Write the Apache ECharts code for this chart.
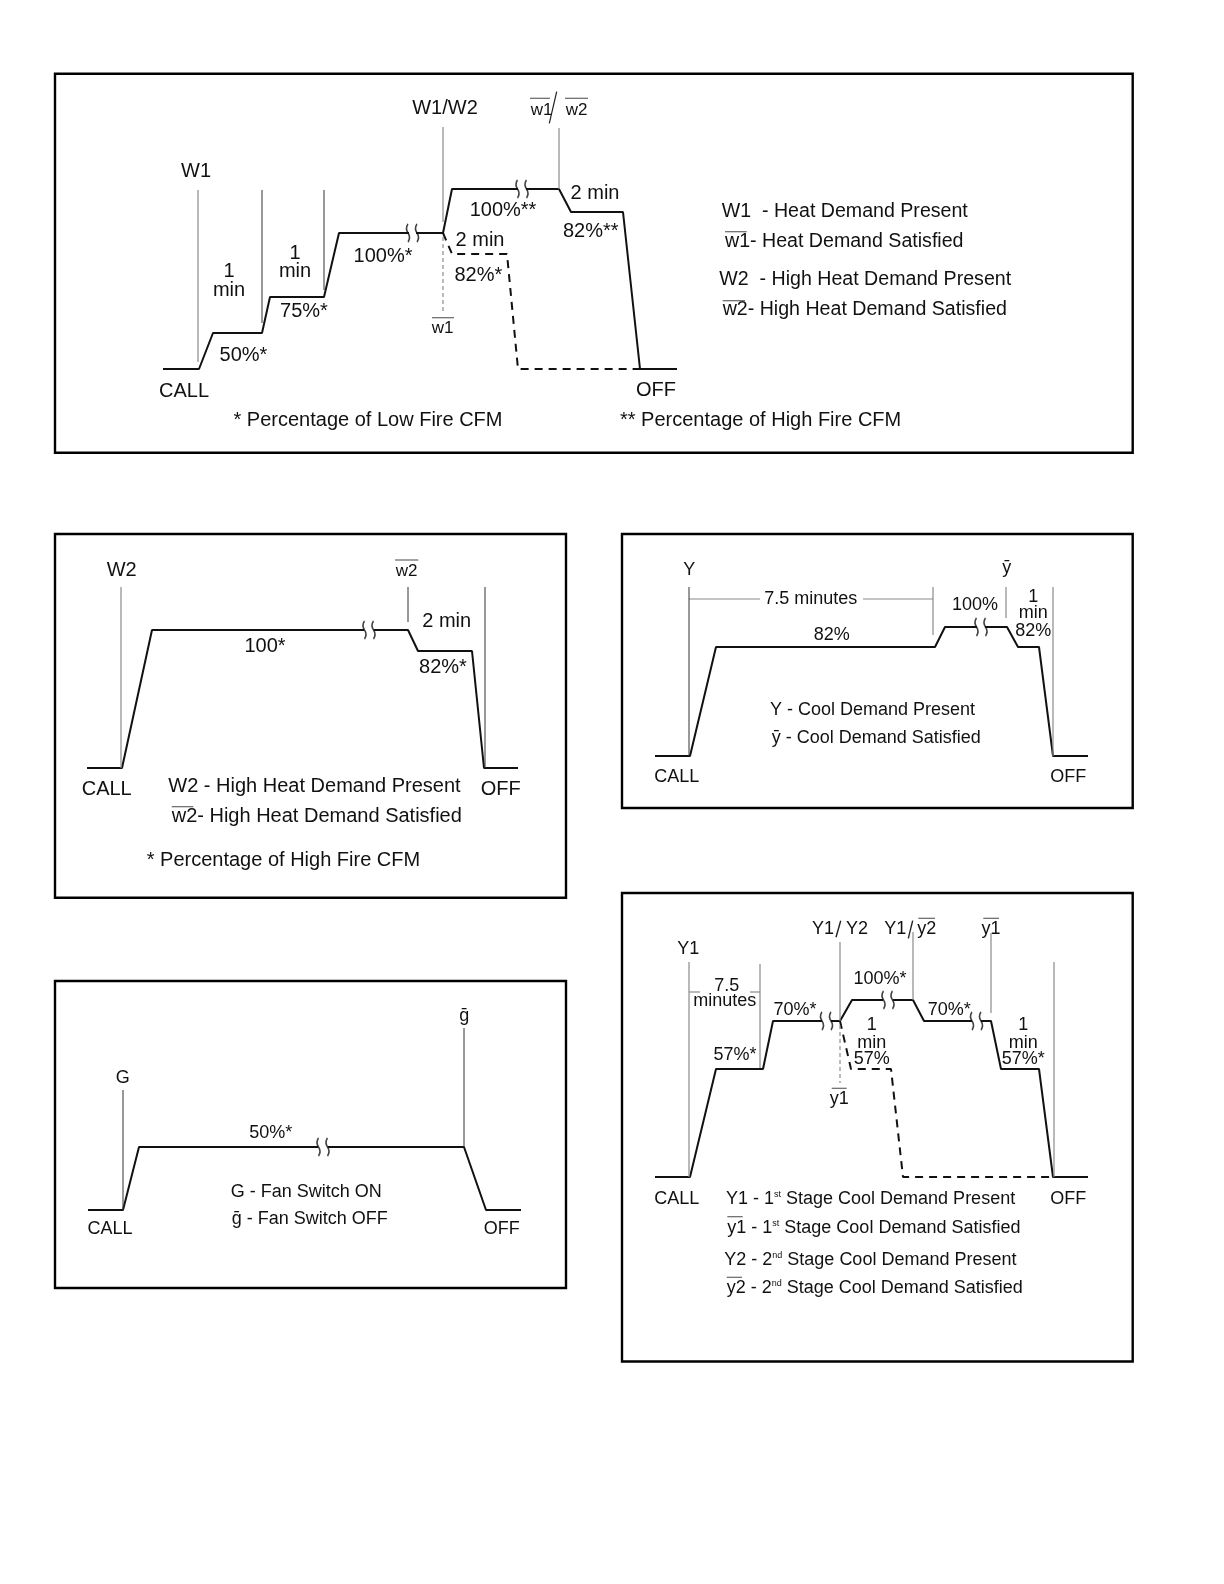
<!DOCTYPE html>
<html>
<head>
<meta charset="utf-8">
<script src="https://cdn.jsdelivr.net/npm/echarts@6/dist/echarts.min.js"></script>
<style>
  html, body { margin: 0; padding: 0; background: #fff; }
  #chart { width: 1224px; height: 1584px; }
</style>
</head>
<body>
<div id="chart"></div>
<script>
// blower profiles (page units, y grows downward)
const heatStagedSolid = [[163,369],[199,369],[213,333],[262,333],[270,297],[324,297],[339,233],[409,233],['-','-'],[416,233],[443,233],[452,189],[518,189],['-','-'],[526,189],[559,189],[571,212],[623,212],[640,369],[677,369]]
const heatStagedDashed = [[443,233],[452,254],[507,254],[518,369],[640,369]]
const highHeatSolid = [[87,768],[122,768],[152,630],[364,630],['-','-'],[374,630],[408,630],[418,651],[472,651],[484,768],[518,768]]
const coolSolid = [[655,756],[690,756],[716,647],[935,647],[945,627],[977,627],['-','-'],[985,627],[1007,627],[1018,647],[1039,647],[1053,756],[1088,756]]
const fanSolid = [[88,1210],[123,1210],[139,1147],[318,1147],['-','-'],[328,1147],[464,1147],[486,1210],[521,1210]]
const twoStageSolid = [[655,1177],[690,1177],[716,1069],[763,1069],[773,1021],[822,1021],['-','-'],[831,1021],[840,1021],[852,1000],[883,1000],['-','-'],[893,1000],[913,1000],[924,1021],[972,1021],['-','-'],[981,1021],[991,1021],[1001,1069],[1039,1069],[1053,1177],[1088,1177]]
const twoStageDashed = [[840,1021],[851,1069],[891,1069],[903,1177],[1053,1177]]

// thermostat event markers (vertical ticks)
const grayMarkers = [
  [[198,190],[198,362]], [[443,127],[443,222]], [[559,128],[559,189]],
  [[121,587],[121,768]],
  [[933,587],[933,635]], [[1006,587],[1006,618]], [[1053,587],[1053,756]],
  [[689,962],[689,1177]], [[760,964],[760,1068]], [[840,942],[840,1021]],
  [[913,932],[913,1000]], [[991,933],[991,1013]], [[1054,962],[1054,1177]],
  // dimension lines
  [[689,599],[760,599]], [[863,599],[933,599]],
  [[689,992],[700,992]], [[750,992],[760,992]]
]
const darkMarkers = [
  [[262,190],[262,323]], [[324,190],[324,290]],
  [[408,587],[408,622]], [[485,587],[485,768]],
  [[689,587],[689,756]],
  [[123,1090],[123,1210]], [[464,1028],[464,1147]]
]
const dashedMarkers = [
  [[443,237],[443,312]], [[840,1025],[840,1083]]
]
const breakPoints = [[412.5,233],[522,189],[369,630],[981,627],[323,1147],[826.5,1021],[888,1000],[976.5,1021]]

const FONT = '"Liberation Sans", Arial, sans-serif'
const INK = '#111'

function line(data, opts) {
  return Object.assign({
    type: 'line', data: data, symbol: 'none', silent: true,
    lineStyle: { color: INK, width: 2 }
  }, opts || {})
}

const series = []
;[heatStagedSolid, highHeatSolid, coolSolid, fanSolid, twoStageSolid].forEach(d => series.push(line(d)))
;[heatStagedDashed, twoStageDashed].forEach(d => series.push(line(d, { lineStyle: { color: INK, width: 2, type: [8, 6] } })))
grayMarkers.forEach(d => series.push(line(d, { lineStyle: { color: '#8a8a8a', width: 1.2 } })))
darkMarkers.forEach(d => series.push(line(d, { lineStyle: { color: '#333', width: 1 } })))
dashedMarkers.forEach(d => series.push(line(d, { lineStyle: { color: '#777', width: 1, type: [4, 3] } })))
series.push({
  type: 'scatter', data: breakPoints, silent: true,
  symbol: 'path://M2,0 Q0,4 2,8 Q4,12 2,16 M8,0 Q6,4 8,8 Q10,12 8,16',
  symbolSize: [12, 18],
  itemStyle: { color: 'rgba(0,0,0,0)', borderColor: INK, borderWidth: 1.8 }
})

// text helpers
function txt(x, y, text, size, align) {
  return {
    type: 'text', x: x, y: y, z: 10,
    style: {
      text: text, fill: INK, fontSize: size, fontFamily: FONT,
      align: align || 'center', verticalAlign: 'middle',
      textAlign: align || 'center', textVerticalAlign: 'middle'
    }
  }
}
function sup(x, y, pre, s, post, size) {
  return {
    type: 'text', x: x, y: y, z: 10,
    style: {
      text: '{a|' + pre + '}{s|' + s + '}{a|' + post + '}',
      align: 'left', verticalAlign: 'middle', textAlign: 'left', textVerticalAlign: 'middle',
      rich: {
        a: { fontSize: size, fontFamily: FONT, fill: INK, color: INK },
        s: { fontSize: 9, fontFamily: FONT, fill: INK, color: INK, verticalAlign: 'top' }
      }
    }
  }
}
function seg(x1, y1, x2, y2, color, w) {
  return { type: 'line', z: 10, shape: { x1: x1, y1: y1, x2: x2, y2: y2 }, style: { stroke: color || '#666', lineWidth: w || 1.2 } }
}
function box(x, y, w, h) {
  return { type: 'rect', z: 5, shape: { x: x, y: y, width: w, height: h }, style: { fill: 'none', stroke: '#000', lineWidth: 2.4 } }
}

const L = 20, S = 18
const graphic = [
  box(55, 73.7, 1077.7, 379.1),
  box(55, 534, 511, 363.7),
  box(622, 534, 510.7, 274),
  box(55, 981, 511, 307),
  box(622, 893, 510.7, 468.5),

  // panel 1 - staged heat
  txt(196, 171.7, 'W1', L),
  txt(184, 391.7, 'CALL', L),
  txt(243.5, 355, '50%*', L),
  txt(229, 271.7, '1', L), txt(229, 290, 'min', L),
  txt(295, 253, '1', L), txt(295, 271, 'min', L),
  txt(304, 311.7, '75%*', L),
  txt(383, 256.7, '100%*', L),
  txt(445, 108.3, 'W1/W2', L),
  txt(541.7, 110.5, 'w1', 17), txt(576.7, 110.5, 'w2', 17),
  seg(530, 98.3, 550, 98.3), seg(565, 98.3, 588, 98.3),
  seg(549.3, 123.3, 556.7, 91.7, '#222', 1.2),
  txt(503, 210, '100%**', L),
  txt(595, 193.3, '2 min', L),
  txt(590.7, 231.7, '82%**', L),
  txt(480, 240, '2 min', L),
  txt(478.3, 275, '82%*', L),
  txt(442.7, 328.3, 'w1', 17), seg(432, 317.7, 454, 317.7),
  txt(368, 420, '* Percentage of Low Fire CFM', L),
  txt(656, 390, 'OFF', L),
  txt(620, 420, '** Percentage of High Fire CFM', L, 'left'),
  txt(721.7, 211.7, 'W1  - Heat Demand Present', 19.6, 'left'),
  txt(725, 241.7, 'w1- Heat Demand Satisfied', 19.6, 'left'), seg(725, 231.7, 746.7, 231.7),
  txt(719.3, 280, 'W2  - High Heat Demand Present', 19.6, 'left'),
  txt(722.7, 310, 'w2- High Heat Demand Satisfied', 19.6, 'left'), seg(722.7, 300.7, 745, 300.7),

  // panel 2 - high heat
  txt(121.7, 570, 'W2', L),
  txt(406.7, 571, 'w2', 17), seg(395, 560, 418.3, 560),
  txt(446.7, 621.7, '2 min', L),
  txt(265, 646.7, '100*', L),
  txt(443, 667.7, '82%*', L),
  txt(106.7, 789.3, 'CALL', L),
  txt(500.7, 789.3, 'OFF', L),
  txt(168.3, 786.7, 'W2 - High Heat Demand Present', L, 'left'),
  txt(171.7, 816.7, 'w2- High Heat Demand Satisfied', L, 'left'), seg(171.7, 806.7, 193.3, 806.7),
  txt(146.7, 860, '* Percentage of High Fire CFM', L, 'left'),

  // panel 3 - cooling
  txt(689.3, 570, 'Y', S),
  txt(1006.7, 568.3, 'ȳ', S),
  txt(810.7, 599.3, '7.5 minutes', S),
  txt(975, 605, '100%', S),
  txt(1033.3, 596.7, '1', S), txt(1033.3, 612.7, 'min', S), txt(1033.3, 630.7, '82%', S),
  txt(831.7, 635, '82%', S),
  txt(676.7, 776.7, 'CALL', S),
  txt(1068.3, 776.7, 'OFF', S),
  txt(770, 710, 'Y - Cool Demand Present', S, 'left'),
  txt(771.7, 738.3, 'ȳ - Cool Demand Satisfied', S, 'left'),

  // panel 4 - fan
  txt(122.7, 1078.3, 'G', S),
  txt(464.3, 1016, 'ḡ', S),
  txt(270.7, 1133.3, '50%*', S),
  txt(230.7, 1192.3, 'G - Fan Switch ON', S, 'left'),
  txt(231.7, 1219, 'ḡ - Fan Switch OFF', S, 'left'),
  txt(110, 1229.3, 'CALL', S),
  txt(501.7, 1229.3, 'OFF', S),

  // panel 5 - two stage cooling
  txt(688.3, 949.3, 'Y1', S),
  txt(823, 929.3, 'Y1', S), txt(857, 929.3, 'Y2', S),
  seg(836, 937.3, 840.7, 920.7, '#222', 1.4),
  txt(895.3, 929.3, 'Y1', S), txt(926.7, 929.3, 'y2', S),
  seg(908.3, 938.3, 912.7, 920.7, '#222', 1.4), seg(918.3, 918.3, 935, 918.3),
  txt(991, 929.3, 'y1', S), seg(983.3, 918.3, 999, 918.3),
  txt(726.7, 986, '7.5', S), txt(724.7, 1001, 'minutes', S),
  txt(880, 979.3, '100%*', S),
  txt(795, 1010, '70%*', S),
  txt(949.3, 1010, '70%*', S),
  txt(735, 1055, '57%*', S),
  txt(871.7, 1025, '1', S), txt(871.7, 1042.7, 'min', S), txt(871.7, 1059.3, '57%', S),
  txt(1023.3, 1025, '1', S), txt(1023.3, 1042.7, 'min', S), txt(1023.3, 1059.3, '57%*', S),
  txt(839.3, 1099, 'y1', S), seg(831.7, 1088.3, 846.7, 1088.3),
  txt(676.7, 1199.3, 'CALL', S),
  txt(1068.3, 1199.3, 'OFF', S),
  sup(726, 1199.3, 'Y1 - 1', 'st', ' Stage Cool Demand Present', S),
  sup(727.3, 1228.3, 'y1 - 1', 'st', ' Stage Cool Demand Satisfied', S), seg(727.3, 1216.7, 742.7, 1216.7),
  sup(724.3, 1260, 'Y2 - 2', 'nd', ' Stage Cool Demand Present', S),
  sup(726.7, 1288.3, 'y2 - 2', 'nd', ' Stage Cool Demand Satisfied', S), seg(726.7, 1277.3, 742, 1277.3)
]

const chart = echarts.init(document.getElementById('chart'))
chart.setOption({
  backgroundColor: '#fff',
  animation: false,
  grid: { left: 0, right: 0, top: 0, bottom: 0 },
  xAxis: { type: 'value', min: 0, max: 1224, show: false },
  yAxis: { type: 'value', min: 0, max: 1584, inverse: true, show: false },
  series: series,
  graphic: graphic
})
</script>
</body>
</html>
